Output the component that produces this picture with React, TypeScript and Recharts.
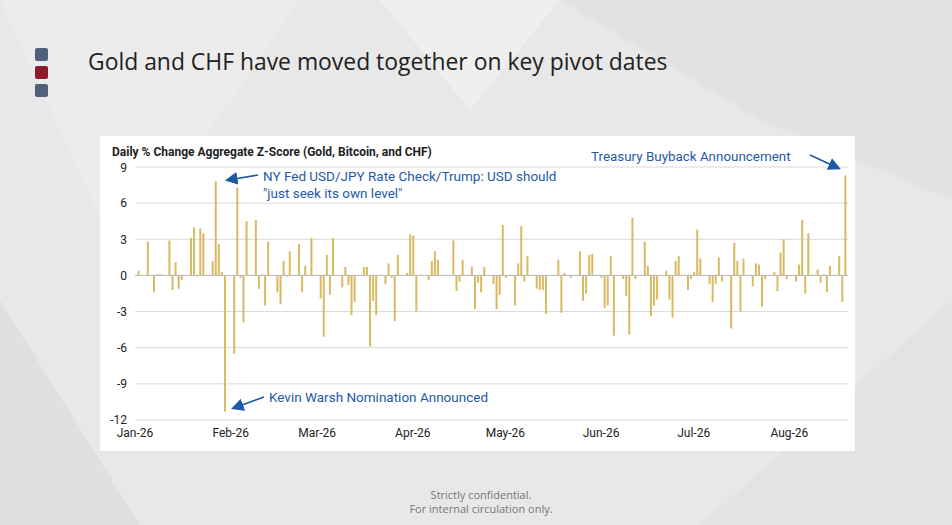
import React from "react";
import { BarChart, Bar, XAxis, YAxis, CartesianGrid, ReferenceLine } from "recharts";

// daily z-scores by trading day, Fri Jan 2 then one row per week (Mon..Fri)
const firstDay = [0.4];
const weeks = [
  [2.8, 0, -1.4, 0.1, 0.1],
  [2.9, -1.2, 1.1, -1.1, -0.4],
  [3.1, 4.0, -0.1, 3.9, 3.5],
  [1.2, 7.8, 2.6, 0.3, -11.3],
  [-6.5, 7.3, -0.2, -3.9, 4.5],
  [4.6, -1.1, 0.1, -2.5, 2.8],
  [-1.4, -2.4, 1.2, -0.1, 2.0],
  [2.6, -1.4, 0.8, 0, 3.1],
  [-1.9, -5.1, 1.7, -1.6, 3.1],
  [-1.0, 0.7, -0.8, -3.3, -2.2],
  [0.7, 0.7, -5.9, -2.1, -3.3],
  [-0.7, 1.0, -0.2, -3.8, 1.7],
  [0.2, 3.4, 3.3, -3.0, 0],
  [-0.4, 1.2, 2.0, 1.3, 0],
  [0, 2.9, -1.3, -0.5, 1.3],
  [0.7, -2.8, -0.6, -1.4, 0.7],
  [-0.7, -2.8, -1.6, 4.2, -0.2],
  [-2.5, 1.0, 4.1, -0.5, 1.6],
  [-1.1, -1.2, -1.2, -3.2, 0],
  [1.3, -3.1, 0.2, 0, -0.2],
  [2.0, -2.1, -1.5, 1.7, 1.8],
  [-0.2, -2.7, -2.5, 1.6, -5.0],
  [-0.3, -1.7, -4.9, 4.8, -0.3],
  [2.8, 0.8, -3.4, -2.5, -2.0],
  [0.4, -2.0, -3.5, 1.2, 1.6],
  [-1.2, -0.3, 0.3, 3.8, 1.4],
  [-0.7, -2.2, -0.7, 1.5, -0.5],
  [-4.4, 2.7, 1.2, -3.0, 1.4],
  [-0.9, 1.0, 0.9, -2.6, -0.3],
  [0.3, -1.3, 1.9, 3.0, -0.3],
  [-0.5, 0.9, 4.6, -1.5, 3.5],
  [0.5, -0.6, 0.1, -1.4, 0.8],
  [1.6, -2.2, 8.3],
];
const monthLabels = ["Jan-26", "Feb-26", "Mar-26", "Apr-26", "May-26", "Jun-26", "Jul-26", "Aug-26"];
const monthStarts = [0, 31, 59, 90, 120, 151, 181, 212];
const yTicks = [-12, -9, -6, -3, 0, 3, 6, 9];

// day index counted from Thu Jan 1 2026
const data: { day: number; v: number }[] = [{ day: 1, v: firstDay[0] }];
weeks.forEach((w, i) => w.forEach((v, j) => data.push({ day: 4 + i * 7 + j, v })));

const BLUE = "#1f5aa6";
const arrow = (x1: number, y1: number, x2: number, y2: number) => (
  <line x1={x1} y1={y1} x2={x2} y2={y2} stroke={BLUE} strokeWidth={1.6} markerEnd="url(#ah)" />
);

export default function App() {
  return (
    <div style={{ position: "fixed", left: 0, top: 0, width: 952, height: 525, background: "#e8e8e8", overflow: "hidden", fontFamily: "'Open Sans', sans-serif" }}>
      <svg width={952} height={525} style={{ position: "absolute", left: 0, top: 0 }}>
        <polygon points="0,0 300,0 120,260" fill="#ececec" />
        <polygon points="560,0 952,0 952,200 760,120" fill="#e2e2e2" />
        <polygon points="0,300 140,525 0,525" fill="#e0e0e0" />
        <polygon points="700,525 952,300 952,525" fill="#e3e3e3" />
        <polygon points="380,0 560,0 470,110" fill="#efefef" />
        <rect x={35} y={48} width={13} height={13} rx={2} fill="#4f6178" />
        <rect x={35} y={66} width={13} height={13} rx={2} fill="#8c1c2c" />
        <rect x={35} y={84} width={13} height={13} rx={2} fill="#4f6178" />
        <text x={88} y={70} fontSize={22.9} fill="#222">Gold and CHF have moved together on key pivot dates</text>
        <text x={481} y={499} fontSize={11} fill="#777" textAnchor="middle">Strictly confidential.</text>
        <text x={481} y={513} fontSize={11} fill="#777" textAnchor="middle">For internal circulation only.</text>
      </svg>
      <div style={{ position: "absolute", left: 100, top: 136, width: 755, height: 315, background: "#fff" }} />
      <div style={{ position: "absolute", left: 100, top: 160 }}>
        <BarChart width={755} height={290} data={data} margin={{ top: 7, right: 7, left: 0, bottom: 0 }} barSize={2}>
          <CartesianGrid vertical={false} stroke="#d9d9d9" />
          <XAxis dataKey="day" type="number" domain={[0, 231]} ticks={monthStarts}
            tickFormatter={(d: number) => monthLabels[monthStarts.indexOf(d)]}
            axisLine={false} tickLine={false} height={30}
            tick={{ fontSize: 12, fill: "#222", fontFamily: "Roboto" }} />
          <YAxis domain={[-12, 9]} ticks={yTicks} axisLine={false} tickLine={false} width={35}
            tick={{ fontSize: 12, fill: "#222", fontFamily: "Roboto" }} />
          <ReferenceLine y={0} stroke="#bbb" />
          <Bar dataKey="v" fill="#d9b962" isAnimationActive={false} />
        </BarChart>
      </div>
      <svg width={952} height={525} style={{ position: "absolute", left: 0, top: 0, pointerEvents: "none" }}>
        <defs>
          <marker id="ah" markerWidth="8" markerHeight="8" refX="6" refY="4" orient="auto">
            <path d="M0,0 L8,4 L0,8 z" fill={BLUE} />
          </marker>
        </defs>
        <text x={112} y={156} fontSize={12} fontWeight="bold" fill="#222" fontFamily="Roboto">Daily % Change Aggregate Z-Score (Gold, Bitcoin, and CHF)</text>
        <text x={263} y={181} fontSize={13.5} fill={BLUE} fontFamily="Roboto">NY Fed USD/JPY Rate Check/Trump: USD should</text>
        <text x={263} y={198} fontSize={13.5} fill={BLUE} fontFamily="Roboto">"just seek its own level"</text>
        {arrow(258, 175, 228, 180)}
        <text x={269} y={402} fontSize={13.5} fill={BLUE} fontFamily="Roboto">Kevin Warsh Nomination Announced</text>
        {arrow(264, 397, 234, 408)}
        <text x={591} y={161} fontSize={13.4} fill={BLUE} fontFamily="Roboto">Treasury Buyback Announcement</text>
        {arrow(810, 155, 838, 168)}
      </svg>
    </div>
  );
}
